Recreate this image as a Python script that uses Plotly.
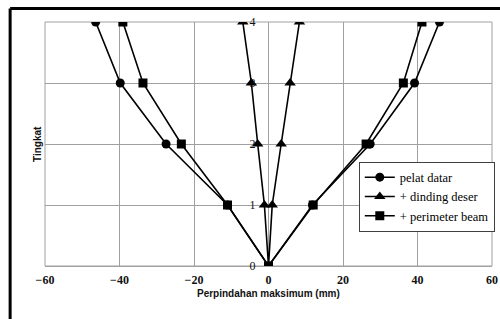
import plotly.graph_objects as go

levels = [4, 3, 2, 1, 0, 1, 2, 3, 4]
pelat_datar = [-46.4, -39.8, -27.5, -11.0, 0, 11.8, 27.3, 39.2, 45.9]
dinding_deser = [-6.9, -4.6, -2.9, -1.1, 0, 1.0, 3.4, 5.8, 8.3]
perimeter_beam = [-39.1, -33.7, -23.4, -11.0, 0, 12.0, 26.2, 36.2, 41.2]

series_names = ["pelat datar", "+ dinding deser", "+ perimeter beam"]
x_ticks = [-60, -40, -20, 0, 20, 40, 60]
y_ticks = [0, 1, 2, 3, 4]

fig = go.Figure()
fig.add_trace(go.Scatter(x=pelat_datar, y=levels, name=series_names[0], mode="lines+markers",
                         line=dict(color="black", width=1.6),
                         marker=dict(symbol="circle", size=9, color="black")))
fig.add_trace(go.Scatter(x=dinding_deser, y=levels, name=series_names[1], mode="lines+markers",
                         line=dict(color="black", width=1.6),
                         marker=dict(symbol="triangle-up", size=10, color="black")))
fig.add_trace(go.Scatter(x=perimeter_beam, y=levels, name=series_names[2], mode="lines+markers",
                         line=dict(color="black", width=1.6),
                         marker=dict(symbol="square", size=9, color="black")))

grid = "#a0a0a0"
tickfont = dict(family="Liberation Serif", size=12, color="#111", weight="bold")

fig.update_layout(
    width=500, height=319,
    margin=dict(l=45, r=8, t=22, b=53, autoexpand=False),
    paper_bgcolor="white", plot_bgcolor="white",
    showlegend=True,
    legend=dict(x=0.702, y=0.428, xanchor="left", yanchor="top",
                bgcolor="white", bordercolor="#404040", borderwidth=1,
                font=dict(family="Liberation Serif", size=12.5, color="black"),
                tracegroupgap=0, itemwidth=30),
    xaxis=dict(range=[-60, 60], tickvals=x_ticks, showgrid=True, gridcolor=grid, gridwidth=1,
               zeroline=True, zerolinecolor=grid, zerolinewidth=1, automargin=False,
               showline=False, ticks="", tickfont=tickfont, ticklabelstandoff=5,
               fixedrange=True),
    yaxis=dict(range=[0, 4], tickvals=y_ticks, showgrid=True, gridcolor=grid, gridwidth=1,
               zeroline=True, zerolinecolor=grid, zerolinewidth=1, automargin=False,
               anchor="free", position=0.5, showline=False, ticks="",
               tickfont=dict(family="Liberation Serif", size=12, color="#111"),
               ticklabelstandoff=13, fixedrange=True),
    shapes=[
        dict(type="rect", xref="paper", yref="paper", x0=0, x1=1, y0=0, y1=1,
             line=dict(color=grid, width=1), layer="below"),
        dict(type="line", xref="paper", yref="paper", x0=-0.078, x1=1.03, y0=1.0553, y1=1.0553,
             line=dict(color="black", width=3)),
        dict(type="line", xref="paper", yref="paper", x0=-0.078, x1=-0.078, y0=1.0553, y1=-0.3,
             line=dict(color="black", width=3)),
    ],
    annotations=[
        dict(text="<b>Perpindahan maksimum (mm)</b>", xref="paper", yref="paper",
             x=0.5, y=-0.1107, xanchor="center", yanchor="middle", showarrow=False,
             font=dict(family="Liberation Sans", size=10, color="#111")),
        dict(text="<b>Tingkat</b>", xref="paper", yref="paper", textangle=-90,
             x=-0.018, y=0.5, xanchor="center", yanchor="middle", showarrow=False,
             font=dict(family="Liberation Sans", size=10, color="#111")),
    ],
)

fig.write_html("out.html", config={"displayModeBar": False},
               post_script="document.body.style.margin='0';")
